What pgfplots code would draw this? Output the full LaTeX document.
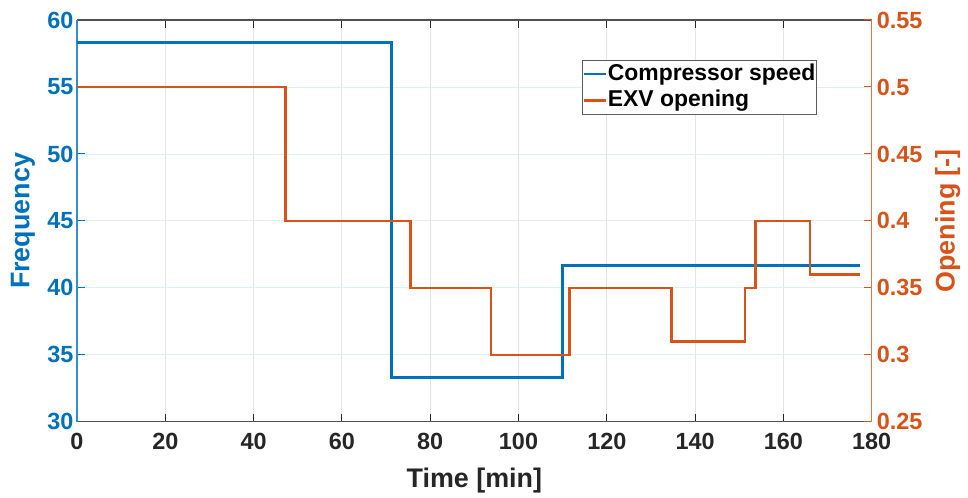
\documentclass[border=0pt]{standalone}
\usepackage{fontspec}
\setmainfont{Liberation Sans}
\usepackage{pgfplots}
\pgfplotsset{compat=1.18}
\definecolor{mblue}{RGB}{0,114,189}
\definecolor{morange}{RGB}{217,83,25}
\definecolor{mgray}{RGB}{38,38,38}

\begin{document}
\begin{tikzpicture}
\pgfplotsset{
  every axis/.append style={
    scale only axis, width=795bp, height=402bp,
    xmin=0, xmax=180,
    font=\fontsize{23.5}{27}\selectfont\bfseries,
    tick align=inside,
    major tick length=8bp,
    /pgf/number format/assume math mode=true,
    every axis label/.append style={font=\fontsize{27}{30}\selectfont\bfseries},
  },
}
% left axis: compressor speed
\begin{axis}[
  name=ax,
  axis x line*=box, axis y line*=left,
  ymin=30, ymax=60,
  xtick={0,20,...,180}, ytick={30,35,...,60},
  xtick pos=both,
  grid=major,
  every axis x grid/.style={gray!20, line width=0.9bp},
  every axis y grid/.style={mblue!12, line width=0.9bp},
  x axis line style={mgray!80, line width=1.2bp},
  y axis line style={mblue!80, line width=1.2bp},
  xtick style={mgray, line width=1bp},
  ytick style={mblue, line width=1bp},
  xticklabel style={mgray, yshift=-8bp},
  yticklabel style={mblue},
  xlabel={Time [min]},
  xlabel style={mgray, at={(axis description cs:0.5,-0.147)}, anchor=center},
  ylabel={Frequency},
  ylabel style={mblue, at={(axis description cs:-0.068,0.5)}, anchor=center, rotate=0},
]
\addplot[const plot, mblue, line width=2.6bp] coordinates {
  (0,58.33) (71.3,33.33) (110.0,41.67) (177.3,41.67)
};
\end{axis}
% right axis: EXV opening
\begin{axis}[
  axis y line*=right, axis x line=none,
  ymin=0.25, ymax=0.55,
  ytick={0.25,0.3,0.35,0.4,0.45,0.5,0.55},
  yticklabel style={morange, xshift=1.5bp, /pgf/number format/fixed, /pgf/number format/precision=2},
  y axis line style={morange!80, line width=1.2bp},
  ytick style={morange, line width=1bp},
  ylabel={Opening [-]},
  ylabel style={morange, at={(axis description cs:1.0956,0.5)}, anchor=center},
  legend style={at={(0.931,0.9)}, anchor=north east, draw=mgray!75, line width=1bp,
    font=\fontsize{23}{26}\selectfont\bfseries, inner xsep=0bp, inner ysep=1.5bp,
    nodes={inner sep=1bp, text height=17bp, text depth=5bp},
    row sep=2.5bp, column sep=0bp, text=black},
  legend cell align=left,
  legend image code/.code={\draw[#1] (0bp,0bp) -- (22bp,0bp);},
]
\addlegendimage{mblue, line width=2.4bp}
\addlegendentry{Compressor speed}
\addplot[const plot, morange, line width=2.6bp] coordinates {
  (0,0.5) (47.2,0.4) (75.6,0.35) (93.8,0.3) (111.5,0.35) (134.6,0.31)
  (151.3,0.35) (153.7,0.4) (166.0,0.36) (177.3,0.36)
};
\addlegendentry{EXV opening}
\end{axis}
\pgfresetboundingbox
\path (ax.south west) ++(-77bp,-75.3bp) rectangle ([xshift=96.3bp,yshift=20bp]ax.north east);
\end{tikzpicture}
\end{document}
